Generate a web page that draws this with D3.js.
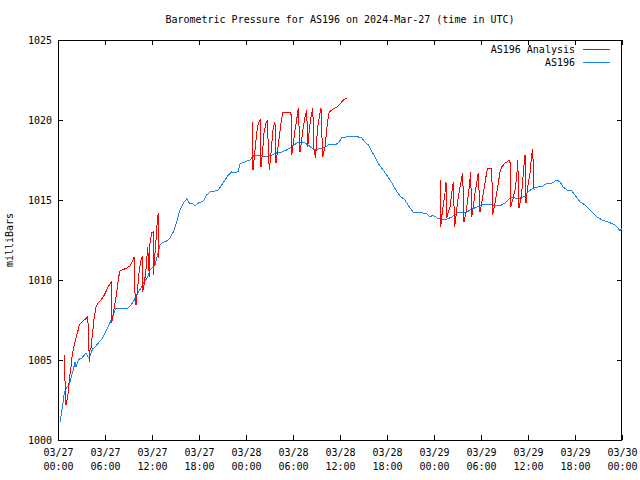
<!DOCTYPE html>
<html><head><meta charset="utf-8">
<script src="https://cdn.jsdelivr.net/npm/d3@7"></script>
<style>body{margin:0;background:#fff}svg text{font-family:"DejaVu Sans Mono",monospace;font-size:10px;fill:#000}</style>
</head><body><svg id="c" width="640" height="480"></svg>
<script>
// hours since 2024-03-27 00:00 UTC
const obsHours=[0.26,0.64,0.80,1.15,1.44,1.66,1.95,2.17,2.30,2.51,2.72,3.06,3.36,3.57,3.79,4.00,4.21,4.43,4.85,5.27,5.71,6.04,6.34,6.77,7.06,7.31,7.62,8.26,8.90,9.32,9.74,10.17,10.60,11.02,11.45,11.74,12.38,13.02,13.24,13.88,14.30,14.72,15.15,15.57,16.00,16.43,16.76,17.27,17.49,17.91,18.55,18.98,19.40,20.04,20.46,20.90,21.32,21.74,22.17,22.60,23.02,23.23,23.87,24.51,24.93,25.57,26.21,26.85,27.28,27.92,28.56,29.20,29.83,30.47,30.89,31.53,31.95,32.39,32.81,33.23,33.66,34.09,34.51,35.36,35.78,36.22,36.85,37.70,38.34,38.77,39.19,39.61,40.09,40.47,40.85,41.49,42.13,42.77,43.28,43.66,44.30,44.68,45.32,45.96,46.60,47.11,47.49,47.87,48.38,48.77,49.66,50.30,50.94,51.57,52.21,52.85,53.49,54.13,55.40,55.79,56.43,57.06,57.70,58.34,58.98,59.62,60.00,60.64,61.28,61.91,62.43,63.06,63.70,64.09,64.47,64.98,65.62,66.00,66.64,67.28,67.91,68.81,69.45,70.21,71.11,71.49,71.74,72.00];
const obsValues=[1001.13,1002.31,1002.94,1003.31,1003.44,1003.88,1004.38,1004.88,1004.56,1004.88,1005.06,1005.13,1005.31,1005.44,1005.19,1005.13,1005.44,1005.69,1005.88,1006.13,1006.38,1006.75,1007.00,1007.50,1007.81,1008.19,1008.25,1008.25,1008.25,1008.44,1008.75,1009.19,1009.50,1009.88,1010.19,1010.63,1010.94,1012.19,1012.31,1012.44,1012.63,1013.00,1013.63,1014.38,1014.81,1015.06,1014.81,1014.75,1014.63,1014.81,1014.94,1015.31,1015.50,1015.56,1015.63,1015.94,1016.25,1016.56,1016.75,1016.69,1016.81,1017.25,1017.38,1017.50,1017.75,1017.81,1017.75,1017.75,1017.81,1017.94,1018.00,1018.13,1018.31,1018.56,1018.63,1018.56,1018.44,1018.25,1018.13,1018.19,1018.25,1018.31,1018.44,1018.44,1018.56,1018.88,1018.94,1018.94,1018.94,1018.88,1018.63,1018.44,1018.00,1017.69,1017.31,1016.88,1016.44,1015.94,1015.50,1015.25,1015.00,1014.69,1014.25,1014.19,1014.19,1014.13,1013.94,1014.06,1013.88,1013.81,1013.81,1013.94,1014.19,1014.25,1014.25,1014.44,1014.56,1014.69,1014.69,1014.63,1014.63,1014.81,1015.13,1015.13,1015.06,1015.25,1015.50,1015.75,1015.81,1015.88,1016.06,1016.06,1016.25,1016.13,1015.81,1015.63,1015.56,1015.31,1014.88,1014.69,1014.38,1013.94,1013.75,1013.63,1013.44,1013.25,1013.06,1013.25];
// analysis series; null separates the three runs
const anaHours=[0.77,0.83,0.96,1.02,1.24,1.44,1.66,1.79,1.95,2.08,2.30,2.51,2.72,3.06,3.36,3.79,3.87,4.00,4.09,4.21,4.43,4.63,4.85,5.07,5.49,5.91,6.34,6.77,6.86,6.98,7.31,7.53,7.75,7.91,8.77,9.19,9.74,9.83,9.96,10.17,10.38,10.60,10.76,10.81,11.02,11.23,11.45,11.66,11.74,11.96,12.13,12.17,12.51,12.68,12.80,12.89,
null,
24.80,24.89,25.15,25.37,25.57,25.79,25.91,26.13,26.30,26.55,26.72,26.97,27.19,27.36,27.48,27.70,27.83,28.00,28.25,28.47,28.69,29.40,29.74,29.83,30.04,30.26,30.47,30.68,30.89,31.11,31.31,31.53,31.75,31.88,32.08,32.30,32.52,32.68,32.87,33.15,33.36,33.57,33.79,34.09,34.30,34.51,34.63,35.14,35.58,36.00,36.42,36.85,
null,
48.77,48.86,48.98,49.19,49.40,49.53,49.62,49.83,50.04,50.26,50.46,50.64,50.90,51.10,51.32,51.54,51.66,51.83,52.09,52.30,52.51,52.68,52.81,53.02,53.23,53.45,53.65,53.87,54.09,54.29,54.51,54.73,54.86,55.37,55.49,55.79,56.00,56.21,56.43,56.64,57.06,57.49,57.70,57.79,58.05,58.34,58.56,58.69,58.85,59.07,59.27,59.40,59.53,59.62,59.74,59.91,60.26,60.47,60.60,60.77];
const anaValues=[1005.31,1004.50,1002.81,1002.19,1002.69,1003.75,1004.56,1005.19,1005.63,1005.94,1006.38,1006.75,1007.19,1007.38,1007.50,1007.69,1007.00,1004.88,1005.63,1005.75,1006.75,1007.69,1008.31,1008.56,1008.75,1009.06,1009.50,1009.88,1007.31,1007.69,1008.63,1009.38,1010.19,1010.56,1010.75,1010.88,1011.44,1009.19,1008.44,1009.50,1010.63,1011.25,1011.50,1009.25,1009.81,1010.63,1012.06,1010.19,1012.31,1012.94,1013.00,1010.31,1012.50,1013.75,1014.19,1011.38,
null,
1019.88,1016.88,1018.13,1019.19,1019.81,1020.00,1017.06,1018.13,1019.19,1019.81,1019.94,1016.88,1017.94,1018.94,1019.56,1019.88,1017.31,1017.94,1018.94,1019.81,1020.44,1020.50,1020.50,1017.81,1018.56,1019.38,1020.00,1020.75,1018.00,1018.75,1019.56,1020.19,1020.63,1018.31,1019.38,1020.19,1020.75,1018.13,1017.63,1019.56,1020.19,1020.75,1017.69,1018.31,1019.38,1020.19,1020.50,1020.69,1020.81,1021.00,1021.25,1021.38,
null,
1016.25,1013.31,1013.94,1014.69,1015.44,1016.13,1013.88,1014.25,1014.56,1015.44,1016.13,1013.31,1014.38,1015.19,1015.81,1016.38,1016.69,1013.63,1014.25,1015.00,1015.81,1016.75,1013.94,1014.56,1015.44,1016.06,1016.69,1014.25,1014.81,1015.44,1016.06,1016.75,1017.00,1017.00,1014.06,1014.81,1015.44,1016.06,1016.75,1017.06,1017.31,1017.44,1017.50,1014.56,1015.00,1015.63,1016.44,1017.50,1014.50,1015.00,1015.81,1016.69,1017.38,1017.81,1014.81,1015.63,1016.69,1017.81,1018.19,1015.63];
const yTicks=[1000,1005,1010,1015,1020,1025];
const xTickHours=[0,6,12,18,24,30,36,42,48,54,60,66,72];
const seriesNames=["AS196 Analysis","AS196"];
const seriesColors=["#ff0000","#1a84f0"];
const titleText="Barometric Pressure for AS196 on 2024-Mar-27 (time in UTC)";
const yLabel="milliBars";

const t0=Date.UTC(2024,2,27);
const toDate=h=>new Date(t0+h*3600e3);
const L=58,R=622,T=40,B=440;
const svg=d3.select("#c");
const x=d3.scaleUtc().domain([toDate(0),toDate(72)]).range([L,R]);
const y=d3.scaleLinear().domain([1000,1025]).range([B,T]);

const fmtD=d3.utcFormat("%m/%d"), fmtT=d3.utcFormat("%H:%M");
const xv=xTickHours.map(toDate);
const gx=svg.append("g").attr("transform",`translate(0,${B})`)
  .call(d3.axisBottom(x).tickValues(xv).tickSize(-5).tickPadding(12).tickFormat(""));
gx.selectAll(".tick text").each(function(d){
  const t=d3.select(this);
  t.append("tspan").attr("x",0).attr("dy","0.4em").text(fmtD(d));
  t.append("tspan").attr("x",0).attr("dy","1.35em").text(fmtT(d));
});
svg.append("g").attr("transform",`translate(0,${T})`)
  .call(d3.axisTop(x).tickValues(xv).tickSize(-5).tickFormat(""));
svg.append("g").attr("transform",`translate(${L},0)`)
  .call(d3.axisLeft(y).tickValues(yTicks).tickSize(-5).tickPadding(6).tickFormat(d3.format("d")));
svg.append("g").attr("transform",`translate(${R},0)`)
  .call(d3.axisRight(y).tickValues(yTicks).tickSize(-5).tickFormat(""));
svg.selectAll(".domain").remove();
svg.selectAll(".tick line").attr("stroke","#000").attr("shape-rendering","crispEdges");
svg.selectAll(".tick text").attr("font-family","DejaVu Sans Mono").attr("font-size",10).attr("fill","#000");

svg.append("rect").attr("x",L+0.5).attr("y",T+0.5).attr("width",R-L-1).attr("height",B-T)
  .attr("fill","none").attr("stroke","#000").attr("shape-rendering","crispEdges");

const obs=obsHours.map((h,i)=>({d:toDate(h),v:obsValues[i]}));
const ana=anaHours.map((h,i)=>h==null?null:{d:toDate(h),v:anaValues[i]});
const line=d3.line().defined(p=>p!=null).x(p=>x(p.d)).y(p=>y(p.v));
svg.append("path").datum(obs).attr("d",line).attr("fill","none").attr("stroke",seriesColors[1])
  .attr("stroke-width",1).attr("shape-rendering","crispEdges");
svg.append("path").datum(ana).attr("d",line).attr("fill","none").attr("stroke",seriesColors[0])
  .attr("stroke-width",1).attr("shape-rendering","crispEdges");

svg.append("text").attr("x",340).attr("y",23).attr("text-anchor","middle").text(titleText);
svg.append("text").attr("transform","translate(13,240) rotate(-90)").attr("text-anchor","middle").text(yLabel);

seriesNames.forEach((n,i)=>{
  const yy=49+i*13;
  svg.append("text").attr("x",575).attr("y",yy+4).attr("text-anchor","end").text(n);
  svg.append("line").attr("x1",583).attr("x2",610).attr("y1",yy+0.5).attr("y2",yy+0.5)
    .attr("stroke",seriesColors[i]).attr("stroke-width",1).attr("shape-rendering","crispEdges");
});
</script></body></html>
